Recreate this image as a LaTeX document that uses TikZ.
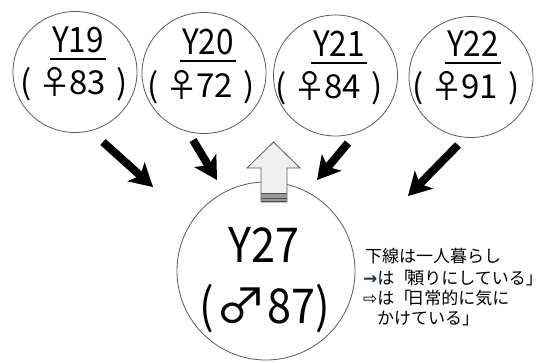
\documentclass[tikz,border=0pt]{standalone}
\usepackage{fontspec}
\usetikzlibrary{arrows.meta,shapes.geometric}
\newfontfamily\jpnum[FakeStretch=0.9]{Noto Sans CJK JP}
\newfontfamily\jptext{Noto Sans CJK JP}
\newfontfamily\symfont{DejaVu Sans}
\newcommand\agetxt[2]{(\hspace{7pt}#1\hspace{-2pt}#2\hspace{11pt})}
\definecolor{circ}{gray}{0.35}
\definecolor{navyarrow}{RGB}{25,45,95}
\definecolor{hollowfill}{gray}{0.94}
\definecolor{stripe}{gray}{0.6}
\begin{document}
\begin{tikzpicture}[x=1pt,y=-1pt,
  person/.style={draw=circ, line width=0.8pt, ellipse, inner sep=0pt},
  smallp/.style={person, minimum width=124pt, minimum height=121pt},
  bigp/.style={person, minimum width=178pt, minimum height=178pt},
  idlab/.style={inner sep=0pt, anchor=base, font=\jpnum\fontsize{35}{35}\selectfont},
  agelab/.style={inner sep=0pt, anchor=base, font=\jptext\fontsize{33}{33}\selectfont},
  bigid/.style={inner sep=0pt, anchor=base, font=\jpnum\fontsize{48}{48}\selectfont},
  uline/.style={line width=1.3pt},
  blk/.style={line width=8pt, -{Stealth[length=23pt,width=26pt,inset=6pt,line width=0pt]}},
  legend/.style={inner sep=0pt, anchor=base west, font=\jptext\fontsize{17}{17}\selectfont},
]
\useasboundingbox (0,0) rectangle (545,363);
% circles
\node[smallp] (y19) at (75,72) {};
\node[smallp] (y20) at (204,73) {};
\node[smallp] (y21) at (335.5,75.5) {};
\node[smallp] (y22) at (471,77) {};
\node[bigp] (y27) at (266,271) {};
% small circle labels
\node[idlab] (t19) at (78,53) {Y19};
\node[agelab] (g19) at (74,95) {\agetxt{♀}{83}};
\node[idlab] (t20) at (208,55) {Y20};
\node[agelab] (g20) at (201,98) {\agetxt{♀}{72}};
\node[idlab] (t21) at (339,57) {Y21};
\node[agelab] (g21) at (329,99) {\agetxt{♀}{84}};
\node[idlab] (t22) at (473,57) {Y22};
\node[agelab] (g22) at (466,99) {\agetxt{♀}{91}};
\foreach \t in {t19,t20,t21,t22}
  \draw[uline] ([xshift=-1.5pt,yshift=-6pt]\t.base west) -- ([xshift=2pt,yshift=-6pt]\t.base east);
% big circle labels
\node[bigid] (t27) at (264,262) {Y27};
\node[bigid] (g27) at (265,323) {(\hspace{1pt}\scalebox{1.2}[1]{♂}\hspace{1pt}87)};
% arrow end points
\coordinate (s19) at (103,142); \coordinate (e19) at (153,187);
\coordinate (s20) at (193,140); \coordinate (e20) at (217,180);
\coordinate (s21) at (348,143); \coordinate (e21) at (317,180);
\coordinate (s22) at (458,145); \coordinate (e22) at (408,196);
\draw[blk] (s19) -- (e19);
\draw[blk] (s20) -- (e20);
\draw[blk] (s21) -- (e21);
\draw[blk] (s22) -- (e22);
% hollow up arrow
\draw[draw=black!65, line width=0.8pt, fill=hollowfill, line join=miter]
  (261,202) -- (261,168) -- (247,168) -- (273.5,142) -- (300,168) -- (287,168) -- (287,202) -- cycle;
\fill[stripe] (261,193) rectangle (287,202);
\draw[black!70, line width=0.9pt] (261,193.5) -- (287,193.5);
\draw[black!70, line width=0.9pt] (261,198.5) -- (287,198.5);
\draw[black!70, line width=0.9pt] (261,201.5) -- (287,201.5);
% legend
\node[legend] (l1) at (365,262) {下線は一人暮らし};
\node[legend] (l2) at (363,284) {{\symfont\bfseries\color{navyarrow}→}は「\hspace{-4pt}頼りにしている」\hspace{-8pt}};
\node[legend] (l3) at (363,304) {{\symfont ⇨}は「\hspace{-4pt}日常的に気に};
\node[legend] (l4) at (377,324) {かけている」};
\end{tikzpicture}
\end{document}
